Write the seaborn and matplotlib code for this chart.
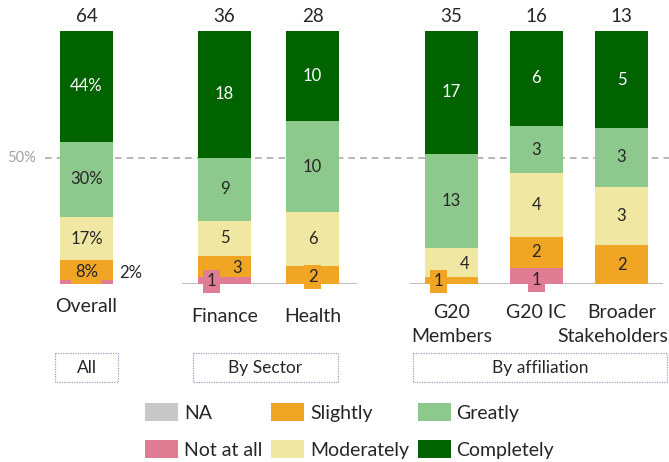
import numpy as np
import pandas as pd
import matplotlib
matplotlib.use("Agg")
import matplotlib.pyplot as plt
from matplotlib.patches import Rectangle, Patch
import seaborn as sns

# ---------------- data ----------------
groups = ["Overall", "Finance", "Health", "G20\nMembers", "G20 IC", "Broader\nStakeholders"]
levels = ["NA", "Not at all", "Slightly", "Moderately", "Greatly", "Completely"]
na_vals        = [0, 0, 0, 0, 0, 0]
not_at_all     = [1, 1, 0, 0, 1, 0]
slightly       = [5, 3, 2, 1, 2, 2]
moderately     = [11, 5, 6, 4, 4, 3]
greatly        = [19, 9, 10, 13, 3, 3]
completely     = [28, 18, 10, 17, 6, 5]
group_boxes = ["All", "By Sector", "By affiliation"]
ref_label = "50%"

# ---------------- style ----------------
colors = {
    "NA": "#C8C8C8",
    "Not at all": "#E07C93",
    "Slightly": "#F0A524",
    "Moderately": "#F0E8A2",
    "Greatly": "#8DC98D",
    "Completely": "#006300",
}
positions = [0.0, 1.6, 2.62, 4.23, 5.21, 6.2]
bar_w = 0.615
FONT = ["Lato", "DejaVu Sans"]
TXT = "#262626"

sns.set_theme(style="white")
plt.rcParams["font.family"] = FONT

counts = {
    "NA": na_vals, "Not at all": not_at_all, "Slightly": slightly,
    "Moderately": moderately, "Greatly": greatly, "Completely": completely,
}
rows = []
totals = np.sum([counts[l] for l in levels], axis=0)
for gi, g in enumerate(groups):
    cum = 0.0
    for l in levels:
        c = counts[l][gi]
        pct = c / totals[gi] * 100
        rows.append(dict(group=g, pos=positions[gi], level=l, count=c,
                         pct=pct, bottom=cum, top=cum + pct))
        cum += pct
df = pd.DataFrame(rows)

fig = plt.figure(figsize=(6.69, 4.62), dpi=100)
W, H = 669, 462
unit = 86.3
x0px = 86.5
ax_bottom_px, ax_top_px = 284, 31
ax = fig.add_axes([0, (H - ax_bottom_px) / H, 1, (ax_bottom_px - ax_top_px) / H])

min_diff = np.min(np.diff(positions))
for l in reversed(levels):
    sub = df[df.level == l]
    sns.barplot(data=sub, x="pos", y="top", native_scale=True, color=colors[l],
                width=bar_w / min_diff, linewidth=0, errorbar=None,
                saturation=1, ax=ax, zorder=2)

ax.set_xlim(-x0px / unit, (W - x0px) / unit)
ax.set_ylim(0, 100)
ax.axis("off")

def px2x(p):
    return (p - x0px) / unit

def py2y(p):
    return (ax_bottom_px - p) / (ax_bottom_px - ax_top_px) * 100

# 50% reference line
ax.hlines(50, px2x(45), px2x(669), colors="#AAAAAA", linestyles=(0, (4, 3)),
          linewidth=1.2, zorder=1)
ax.text(px2x(22), 50, ref_label, ha="center", va="center", fontsize=10.5,
        color="#A0A0A0", clip_on=False)

# baselines
ax.hlines(0, px2x(182), px2x(357), colors="#BFBFBF", linewidth=1.5, zorder=1.5)
ax.hlines(0, px2x(410), px2x(663), colors="#BFBFBF", linewidth=1.5, zorder=1.5)

# totals
for gi, g in enumerate(groups):
    ax.text(positions[gi], 102.5, f"{totals[gi]}", ha="center", va="bottom",
            fontsize=13.5, color=TXT, clip_on=False)

# special label adjustments (pixel offsets, bbox flag)
special = {
    ("Overall", "Not at all"): (44, 9, False),
    ("Overall", "Slightly"): (0, -2, True),
    ("Finance", "Not at all"): (-13, -1, True),
    ("Finance", "Slightly"): (13, -2, False),
    ("Health", "Slightly"): (0, -2, True),
    ("G20\nMembers", "Slightly"): (-13, -1, True),
    ("G20\nMembers", "Moderately"): (13, -2, False),
    ("G20 IC", "Not at all"): (0, -4, True),
}

for _, r in df.iterrows():
    if r["count"] == 0:
        continue
    if r["group"] == "Overall":
        lab = f"{round(r['pct']):.0f}%"
    else:
        lab = f"{int(r['count'])}"
    dx, dy, box = special.get((r["group"], r["level"]), (0, 0, False))
    col = "white" if r["level"] == "Completely" else TXT
    kw = {}
    if box:
        kw["bbox"] = dict(boxstyle="square,pad=0.22", fc=colors[r["level"]],
                          ec="none")
    ax.annotate(lab, (r["pos"], (r["bottom"] + r["top"]) / 2),
                xytext=(dx * 0.72, dy * 0.72), textcoords="offset points",
                ha="center", va="center", fontsize=12, color=col,
                annotation_clip=False, zorder=5, **kw)

# category labels
label_y = {"Overall": 307, "Finance": 316, "Health": 316, "G20 IC": 313}
for gi, g in enumerate(groups):
    if "\n" in g:
        l1, l2 = g.split("\n")
        ax.text(positions[gi], py2y(313), l1, ha="center", va="center",
                fontsize=14, color=TXT, clip_on=False)
        if px2x(W) - positions[gi] < 0.62:
            ax.text(px2x(W - 1), py2y(337), l2, ha="right", va="center",
                    fontsize=14, color=TXT, clip_on=False)
        else:
            ax.text(positions[gi], py2y(337), l2, ha="center", va="center",
                    fontsize=14, color=TXT, clip_on=False)
    else:
        ax.text(positions[gi], py2y(label_y[g]), g, ha="center", va="center",
                fontsize=14, color=TXT, clip_on=False)

# group boxes (overlay axes in pixel coordinates)
ov = fig.add_axes([0, 0, 1, 1], zorder=-1)
ov.set_xlim(0, W)
ov.set_ylim(H, 0)
ov.axis("off")
box_px = [(55, 118), (193, 338), (413, 667)]
for (x1, x2), name in zip(box_px, group_boxes):
    ov.add_patch(Rectangle((x1, 353), x2 - x1, 29, fill=False, ec="#9AA3BD",
                           lw=0.9, ls=(0, (1, 1))))
    ov.text((x1 + x2) / 2, 368, name, ha="center", va="center", fontsize=12.5,
            color=TXT)

# legend
handles = [Patch(facecolor=colors[l], edgecolor="none", label=l) for l in levels]
fig.legend(handles=handles, ncol=3, loc="upper left",
           bbox_to_anchor=(145 / W, 1 - 403 / H), frameon=False,
           fontsize=14, handlelength=1.7, handleheight=1.08,
           handletextpad=0.3, columnspacing=0.45, labelspacing=0.92,
           borderpad=0, borderaxespad=0, labelcolor=TXT)

fig.savefig("out.png", dpi=100)
